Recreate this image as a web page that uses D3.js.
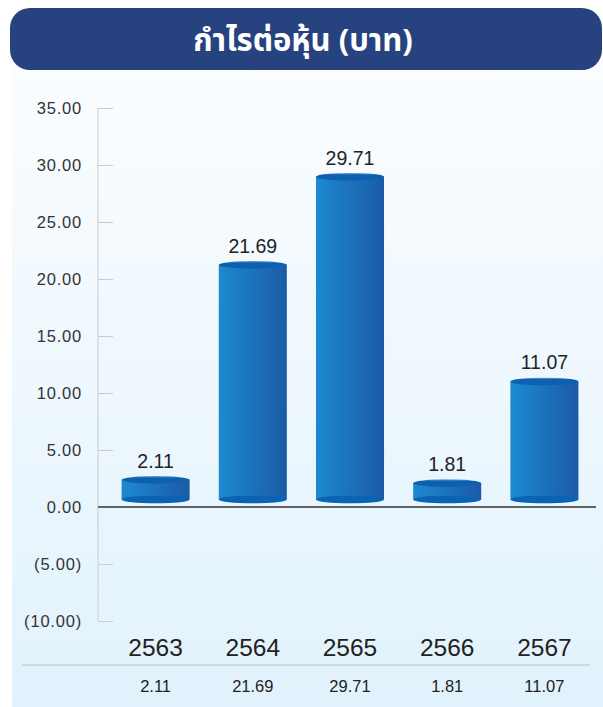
<!DOCTYPE html>
<html><head><meta charset="utf-8">
<script src="https://cdn.jsdelivr.net/npm/d3@7"></script>
<style>html,body{margin:0;padding:0;background:#fff;}svg{display:block;}</style>
</head><body>
<script>
const title = "กำไรต่อหุ้น (บาท)";
const years = ["2563","2564","2565","2566","2567"];
const eps = [2.11, 21.69, 29.71, 1.81, 11.07];
const epsLabels = ["2.11","21.69","29.71","1.81","11.07"];
const yTicks = [35, 30, 25, 20, 15, 10, 5, 0, -5, -10];

const W = 603, H = 707;
const svg = d3.select("body").append("svg").attr("width", W).attr("height", H);
const defs = svg.append("defs");

const bg = defs.append("linearGradient").attr("id","bg").attr("x1",0).attr("y1",0).attr("x2",0).attr("y2",1);
bg.append("stop").attr("offset","0%").attr("stop-color","#fbfdff");
bg.append("stop").attr("offset","100%").attr("stop-color","#e1f2fc");

const body = defs.append("linearGradient").attr("id","body").attr("x1",0).attr("y1",0).attr("x2",1).attr("y2",0);
body.append("stop").attr("offset","0%").attr("stop-color","#1c8ad0");
body.append("stop").attr("offset","100%").attr("stop-color","#1b5aa6");

const topG = defs.append("linearGradient").attr("id","topg").attr("x1",0).attr("y1",0).attr("x2",0).attr("y2",1);
topG.append("stop").attr("offset","0%").attr("stop-color","#6aa7dc");
topG.append("stop").attr("offset","25%").attr("stop-color","#0f5fae");
topG.append("stop").attr("offset","100%").attr("stop-color","#0a62b2");

// panel
svg.append("rect").attr("x",12).attr("y",62).attr("width",W-12).attr("height",H-62).attr("fill","url(#bg)");

// title bar
svg.append("rect").attr("x",10).attr("y",8).attr("width",592).attr("height",62).attr("rx",20).attr("fill","#27437f");
svg.append("text").attr("x",303).attr("y",51).attr("text-anchor","middle")
  .attr("font-family","'Noto Sans Thai','Noto Sans','DejaVu Sans',sans-serif").attr("font-weight","bold")
  .attr("font-size",31).attr("fill","#fff").text(title);

const font = "'Liberation Sans', Arial, Helvetica, sans-serif";

// scales
const y = d3.scaleLinear().domain([-10, 35]).range([621, 108]);
const x = d3.scaleBand().domain(years).range([107, 593]).paddingInner(0.3).paddingOuter(0.15);
// bar heights follow the chart's 3D cylinder projection
const yBar = d3.scaleLinear().domain([0, 35]).range([503, 503 - 35 * 10.98]);

// y axis
const axisG = svg.append("g").attr("transform","translate(98,0)")
  .call(d3.axisRight(y).tickValues(yTicks).tickSize(15).tickFormat(() => ""));
axisG.select(".domain").attr("stroke","#c8ccd0").attr("d", `M0,${y(35)}V${y(-10)}`);
axisG.selectAll(".tick line").attr("stroke","#c8ccd0");

const fmt = v => v < 0 ? `(${Math.abs(v).toFixed(2)})` : v.toFixed(2);
svg.append("g").selectAll("text").data(yTicks).join("text")
  .attr("x", 82).attr("y", d => y(d) + 6).attr("text-anchor","end")
  .attr("font-family", font).attr("font-size", 16.5).attr("letter-spacing", 0.8).attr("fill","#333")
  .text(fmt);

// zero line
svg.append("line").attr("x1",98).attr("x2",596).attr("y1",y(0)).attr("y2",y(0))
  .attr("stroke","#5f6368").attr("stroke-width",2.2);

// bars (cylinders)
const ry = 3.8;
const bottomC = 499.5;
const bars = svg.append("g").selectAll("g").data(eps).join("g");
bars.append("rect")
  .attr("x",(d,i)=>x(years[i])).attr("width",x.bandwidth())
  .attr("y",d=>yBar(d)).attr("height",d=>bottomC - yBar(d))
  .attr("fill","url(#body)");
bars.append("ellipse")
  .attr("cx",(d,i)=>x(years[i]) + x.bandwidth()/2).attr("cy",bottomC)
  .attr("rx",x.bandwidth()/2).attr("ry",ry).attr("fill","#0a63b3");
bars.append("ellipse")
  .attr("cx",(d,i)=>x(years[i]) + x.bandwidth()/2).attr("cy",d=>yBar(d))
  .attr("rx",x.bandwidth()/2).attr("ry",ry).attr("fill","url(#topg)");
bars.append("text")
  .attr("x",(d,i)=>x(years[i]) + x.bandwidth()/2).attr("y",d=>yBar(d) - 12)
  .attr("text-anchor","middle").attr("font-family",font).attr("font-size",19.5).attr("fill","#222")
  .text((d,i)=>epsLabels[i]);

// x labels
svg.append("g").selectAll("text").data(years).join("text")
  .attr("x",d=>x(d)+x.bandwidth()/2).attr("y",656).attr("text-anchor","middle")
  .attr("font-family",font).attr("font-size",24.5).attr("fill","#222").text(d=>d);

svg.append("line").attr("x1",22).attr("x2",590).attr("y1",665).attr("y2",665)
  .attr("stroke","#b9c3cb").attr("stroke-width",1);

svg.append("g").selectAll("text").data(epsLabels).join("text")
  .attr("x",(d,i)=>x(years[i])+x.bandwidth()/2).attr("y",692).attr("text-anchor","middle")
  .attr("font-family",font).attr("font-size",16.5).attr("fill","#222").text(d=>d);
</script>
</body></html>
